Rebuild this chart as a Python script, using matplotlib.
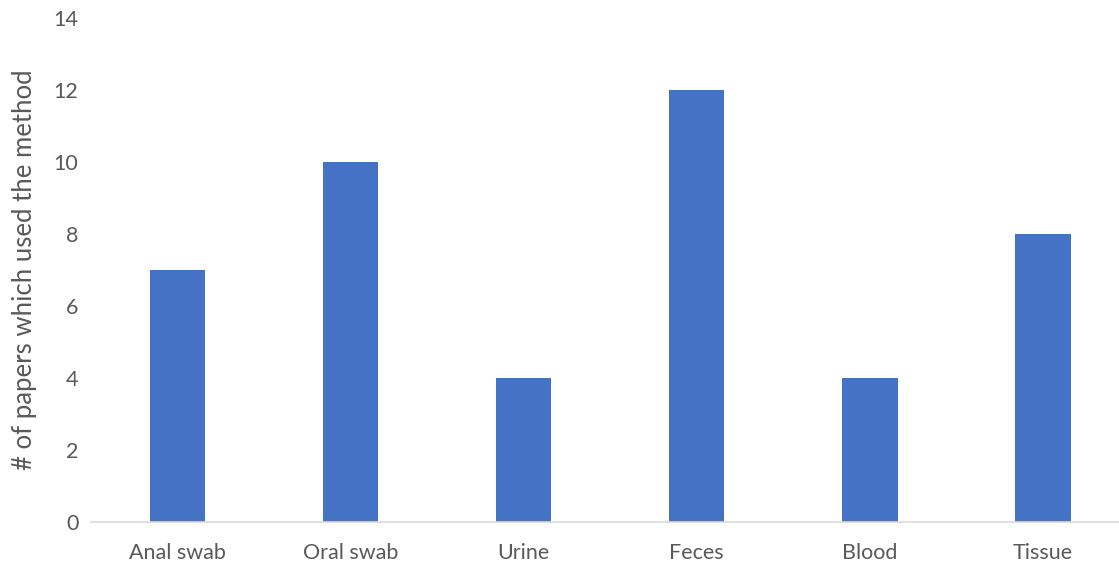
import matplotlib
matplotlib.use("Agg")
import matplotlib.pyplot as plt

categories = ["Anal swab", "Oral swab", "Urine", "Feces", "Blood", "Tissue"]
papers = [7, 10, 4, 12, 4, 8]
y_ticks = [0, 2, 4, 6, 8, 10, 12, 14]

BAR = "#4472C4"
TEXT = "#595959"

plt.rcParams["font.family"] = ["Lato", "DejaVu Sans"]

fig = plt.figure(figsize=(11.19, 5.63), dpi=100)
ax = fig.add_axes([91 / 1119, 41 / 563, 1038.5 / 1119, 504 / 563])

x = range(len(categories))
ax.bar(x, papers, width=0.32, color=BAR, zorder=2)

ax.set_xlim(-0.5, len(categories) - 0.5)
ax.set_ylim(0, 14)
ax.set_yticks(y_ticks)
ax.set_xticks(list(x))
ax.set_xticklabels(categories)

for side in ("top", "right", "left"):
    ax.spines[side].set_visible(False)
ax.spines["bottom"].set_color("#D9D9D9")
ax.spines["bottom"].set_linewidth(1.2)

ax.tick_params(axis="both", length=0, labelsize=15.5, colors=TEXT)
ax.tick_params(axis="x", pad=15)
ax.tick_params(axis="y", pad=9)

ax.set_ylabel("# of papers which used the method", fontsize=18.5, color=TEXT, labelpad=12)

fig.savefig("out.png", dpi=100)
